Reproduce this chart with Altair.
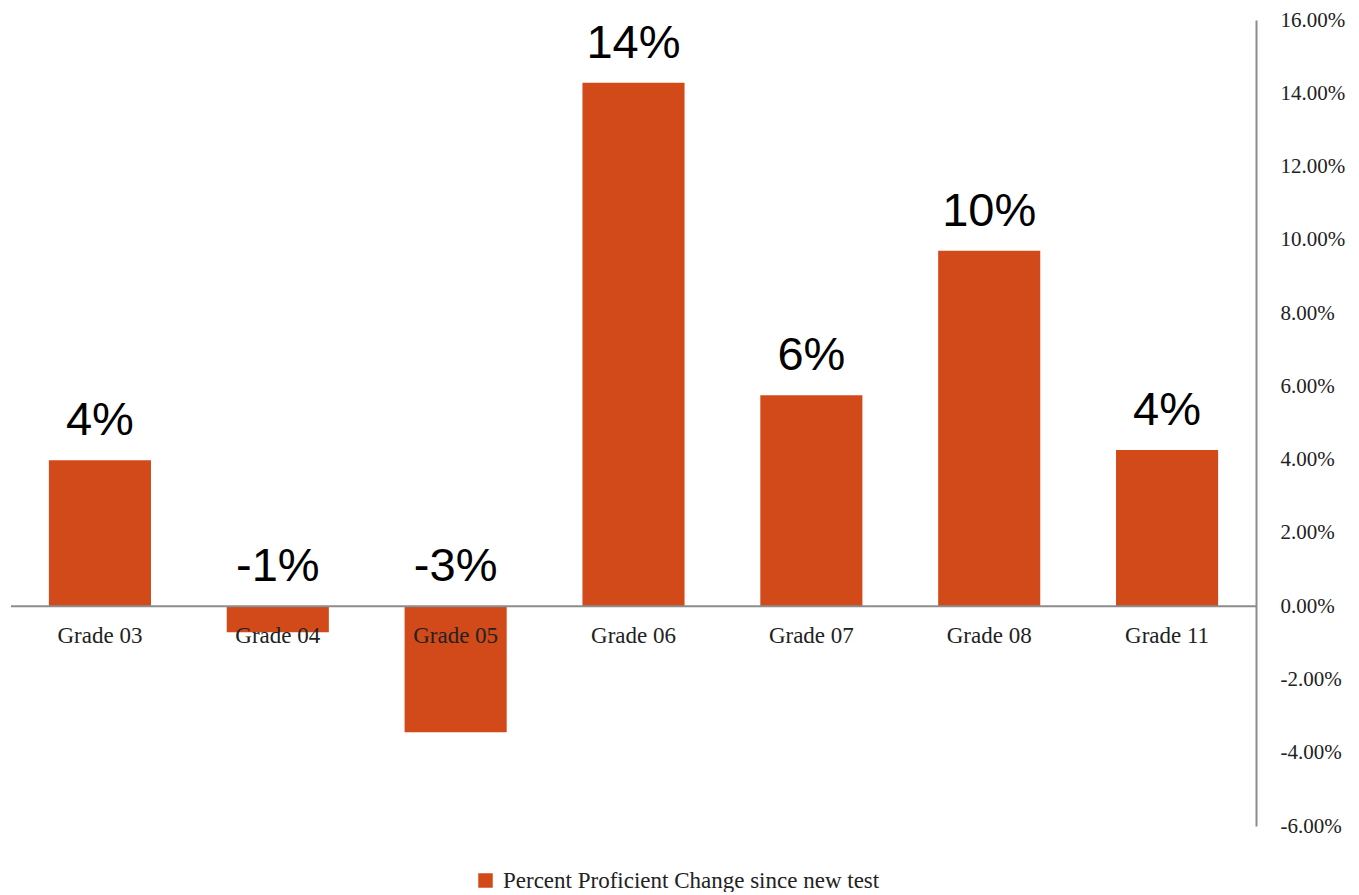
import altair as alt
import pandas as pd

grades = ["Grade 03", "Grade 04", "Grade 05", "Grade 06", "Grade 07", "Grade 08", "Grade 11"]
change = [0.0398, -0.0071, -0.0344, 0.1429, 0.0576, 0.0970, 0.0426]
series_name = "Percent Proficient Change since new test"
tick_values = [-0.06, -0.04, -0.02, 0, 0.02, 0.04, 0.06, 0.08, 0.10, 0.12, 0.14, 0.16]

df = pd.DataFrame({"grade": grades, "value": change, "series": [series_name] * len(grades)})

BAR = "#D2491A"
SERIF = "Liberation Serif"

x = alt.X("grade:N", sort=grades, axis=None,
          scale=alt.Scale(paddingInner=0, paddingOuter=0))
yscale = alt.Scale(domain=[-0.06, 0.16], nice=False)

base = alt.Chart(df)

bars = base.mark_bar(width=alt.RelativeBandSize(0.574)).encode(
    x=x,
    y=alt.Y("value:Q", scale=yscale,
            axis=alt.Axis(orient="right", format=".2%", values=tick_values,
                          labelExpr="replace(datum.label, '\u2212', '-')",
                          grid=False, ticks=False, domainColor="#8c8c8c", domainWidth=2,
                          labelFont=SERIF, labelFontSize=21, labelColor="#222222",
                          labelPadding=24, title=None)),
    color=alt.Color("series:N", scale=alt.Scale(range=[BAR]),
                    legend=alt.Legend(orient="none", legendX=463, legendY=849, title=None,
                                      symbolType="square", symbolSize=210, symbolStrokeWidth=0,
                                      labelFont=SERIF, labelFontSize=23, labelColor="#222222",
                                      labelLimit=0, labelOffset=6)),
)

zero = alt.Chart(pd.DataFrame({"z": [0.0]})).mark_rule(color="#8c8c8c", strokeWidth=2).encode(
    y=alt.Y("z:Q", scale=yscale)
)

value_labels = base.transform_calculate(
    ly="max(datum.value, 0)",
    lbl="replace(format(datum.value, '.0%'), '\u2212', '-')",
).mark_text(font="Liberation Sans", fontSize=47, baseline="alphabetic", dy=-25, color="#000000").encode(
    x=x,
    y=alt.Y("ly:Q", scale=yscale),
    text="lbl:N",
)

cat_labels = base.transform_calculate(z="0").mark_text(
    font=SERIF, fontSize=23, baseline="middle", dy=30, color="#222222"
).encode(
    x=x,
    y=alt.Y("z:Q", scale=yscale),
    text="grade:N",
)

chart = alt.layer(bars, zero, value_labels, cat_labels).properties(
    width=1245, height=806,
    autosize=alt.AutoSizeParams(type="none"),
    padding={"left": 3, "top": 12, "right": 95, "bottom": 66},
).configure_view(stroke=None)

chart.save("out.html", embed_options={"renderer": "svg", "actions": False})
